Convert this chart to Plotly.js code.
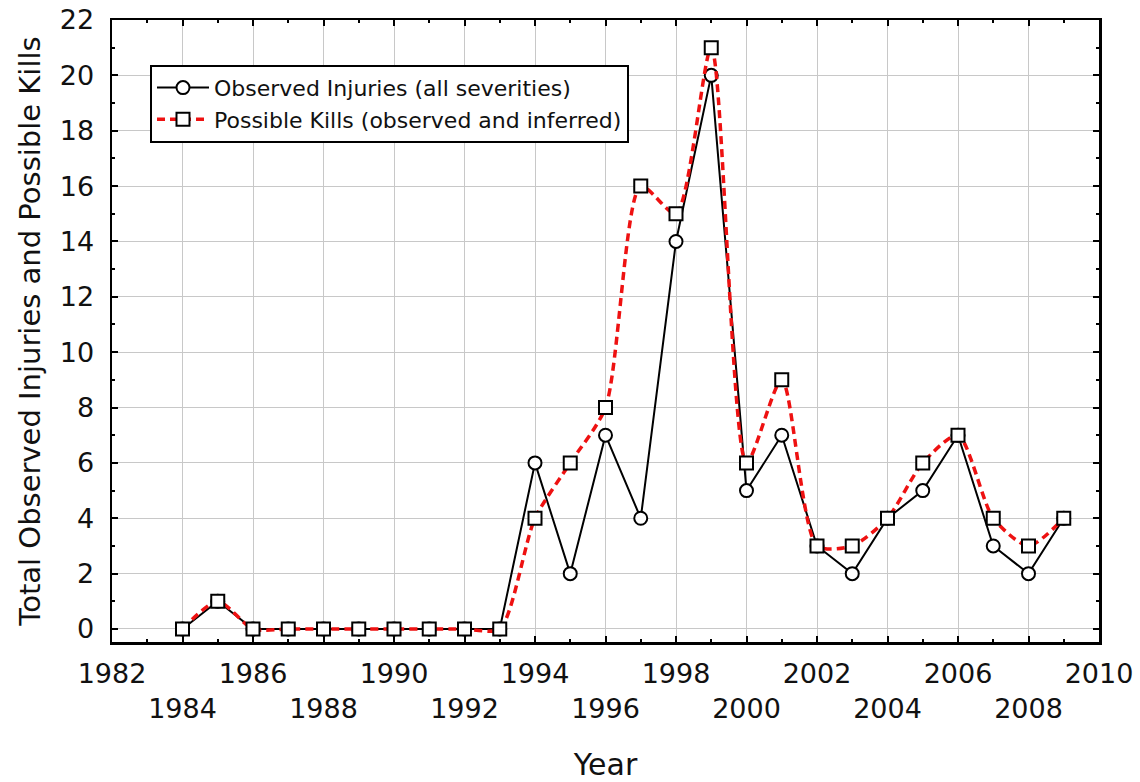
<!DOCTYPE html>
<html>
<head>
<meta charset="utf-8">
<script src="https://cdn.plot.ly/plotly-3.0.1.min.js"></script>
<style>html,body{margin:0;padding:0;background:#fff;}#chart{width:1140px;height:782px;}</style>
</head>
<body>
<div id="chart"></div>
<script>
const years = [1984,1985,1986,1987,1988,1989,1990,1991,1992,1993,1994,1995,1996,1997,1998,1999,2000,2001,2002,2003,2004,2005,2006,2007,2008,2009];
const observedInjuries = [0,1,0,0,0,0,0,0,0,0,6,2,7,4,14,20,5,7,3,2,4,5,7,3,2,4];
const possibleKills = [0,1,0,0,0,0,0,0,0,0,4,6,8,16,15,21,6,9,3,3,4,6,7,4,3,4];
const xTickValues = [1982,1984,1986,1988,1990,1992,1994,1996,1998,2000,2002,2004,2006,2008,2010];
// labels alternate between an upper and a lower row
const xTickLabels = ['1982',' <br>1984','1986',' <br>1988','1990',' <br>1992','1994',' <br>1996','1998',' <br>2000','2002',' <br>2004','2006',' <br>2008','2010'];
const seriesNames = ['Observed Injuries (all severities)', 'Possible Kills (observed and inferred)'];

const FONT = '"DejaVu Sans", Arial, sans-serif';

const traces = [
  {
    x: years, y: observedInjuries, name: seriesNames[0], type: 'scatter', mode: 'lines+markers',
    line: {color: '#000000', width: 2},
    marker: {symbol: 'circle', size: 13, color: '#ffffff', line: {color: '#000000', width: 2}}
  },
  {
    x: years, y: possibleKills, name: seriesNames[1], type: 'scatter', mode: 'lines+markers',
    line: {color: '#ee1111', width: 3.5, dash: '8px,5px', shape: 'spline', smoothing: 0.7},
    marker: {symbol: 'square', size: 13, color: '#ffffff', line: {color: '#000000', width: 2}}
  }
];

const layout = {
  width: 1140, height: 782,
  margin: {l: 112, r: 41, t: 20, b: 140},
  paper_bgcolor: '#ffffff', plot_bgcolor: '#ffffff',
  font: {family: FONT, color: '#111111', size: 26},
  showlegend: true,
  legend: {
    x: 0.0385, y: 0.928, xanchor: 'left', yanchor: 'top',
    bgcolor: '#ffffff', bordercolor: '#000000', borderwidth: 2,
    font: {family: FONT, size: 22, color: '#111111'},
    tracegroupgap: 0, itemwidth: 52
  },
  xaxis: {
    range: [1982, 2010],
    tickmode: 'array', tickvals: xTickValues, ticktext: xTickLabels, tickangle: 0,
    tickfont: {family: FONT, size: 27, color: '#111111'},
    ticklabelstandoff: 6,
    ticks: 'inside', ticklen: 6, tickwidth: 2, tickcolor: '#000',
    minor: {ticks: 'inside', dtick: 1, tick0: 1982, ticklen: 3, tickwidth: 2, tickcolor: '#000', showgrid: false},
    showgrid: true, gridcolor: '#c8c8c8', gridwidth: 1,
    showline: true, linecolor: '#000000', linewidth: 2.5, mirror: 'ticks',
    zeroline: false, fixedrange: true, automargin: false,
    title: {text: 'Year', font: {family: FONT, size: 30, color: '#111111'}, standoff: 38}
  },
  yaxis: {
    range: [-0.47, 22], tickmode: 'linear', tick0: 0, dtick: 2,
    ticks: 'inside', ticklen: 6, tickwidth: 2, tickcolor: '#000',
    minor: {ticks: 'inside', dtick: 1, ticklen: 3, tickwidth: 2, tickcolor: '#000', showgrid: false},
    showgrid: true, gridcolor: '#c8c8c8', gridwidth: 1,
    showline: true, linecolor: '#000000', linewidth: 2.5, mirror: 'ticks',
    zeroline: false, fixedrange: true, automargin: false,
    tickfont: {family: FONT, size: 27, color: '#111111'},
    ticklabelstandoff: 10,
    title: {text: 'Total Observed Injuries and Possible Kills', font: {family: FONT, size: 29, color: '#111111'}, standoff: 11}
  }
};

Plotly.newPlot('chart', traces, layout, {staticPlot: true, displayModeBar: false});
</script>
</body>
</html>
